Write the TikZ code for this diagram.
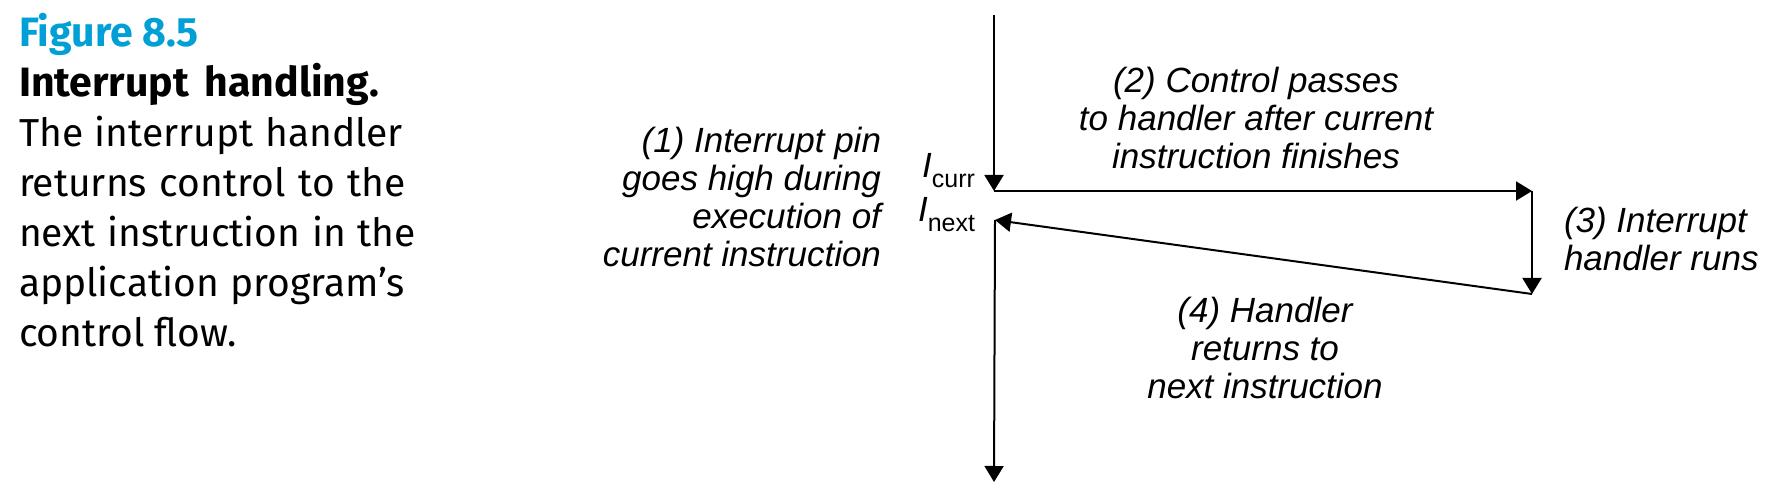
\documentclass[tikz,border=0pt]{standalone}
\usepackage{fontspec}
\setmainfont{Liberation Sans}
\newfontfamily\capfont{Fira Sans}
\usetikzlibrary{arrows.meta,positioning}
\definecolor{figblue}{RGB}{0,160,214}
\newcommand{\Iname}[1]{{\itshape I}\raisebox{-5pt}{\fontsize{12.5}{12.5}\selectfont #1}}
\newcommand{\jline}[2]{\makebox[#1][s]{#2}}
\begin{document}
\begin{tikzpicture}[x=0.5pt, y=-0.5pt, line width=1pt,
    flow/.style = {-{Triangle[length=8pt,width=9.5pt]}},
    note/.style = {font=\fontsize{17.5}{19}\selectfont\itshape, inner sep=0pt},
    captext/.style = {font=\capfont\fontsize{19.5}{25}\selectfont, inner sep=0pt, align=left}]
    \useasboundingbox (0,0) rectangle (1776,496);
    % caption
    \node[captext, anchor=base west] (caption) at (18,347) {{\fontsize{20.5}{25}\selectfont\color{figblue}\bfseries Figure 8.5}\\
        {\fontsize{20.5}{25}\selectfont\bfseries\jline{180pt}{Interrupt handling.}}\\
        \jline{192pt}{The interrupt handler}\\
        \jline{193.5pt}{returns control to the}\\
        \jline{198.5pt}{next instruction in the}\\
        \jline{193pt}{application program’s}\\
        control flow.};
    % control flow
    \coordinate (top) at (994,15);
    \coordinate (curr) at (994,191);
    \coordinate (h1) at (1532,191);
    \coordinate (h2) at (1532,294);
    \coordinate (next) at (995,220);
    \coordinate (bot) at (994,482);
    \draw[flow] (top) -- (curr);
    \draw[flow] (curr) -- (h1);
    \draw[flow] (h1) -- (h2);
    \draw[flow] (h2) -- (next);
    \draw[flow] (next) -- (bot);
    % labels
    \node[note, font=\fontsize{17.5}{19}\selectfont, anchor=base east] (icurr) at (976,178) {\Iname{curr}};
    \node[note, font=\fontsize{17.5}{19}\selectfont, anchor=base east] (inext) at (976,222) {\Iname{next}};
    \node[note, align=right, anchor=base east] (pin) at (882,267) {(1) Interrupt pin\\ goes high during\\ execution of\\ current instruction};
    \node[note, align=center, anchor=base] (pass) at (1256,169) {(2) Control passes\\ to handler after current\\ instruction finishes};
    \node[note, align=left, anchor=base west] (runs) at (1563,271) {(3) Interrupt\\ handler runs};
    \node[note, align=center, anchor=base] (ret) at (1265,399) {(4) Handler\\ returns to\\ next instruction};
\end{tikzpicture}
\end{document}
